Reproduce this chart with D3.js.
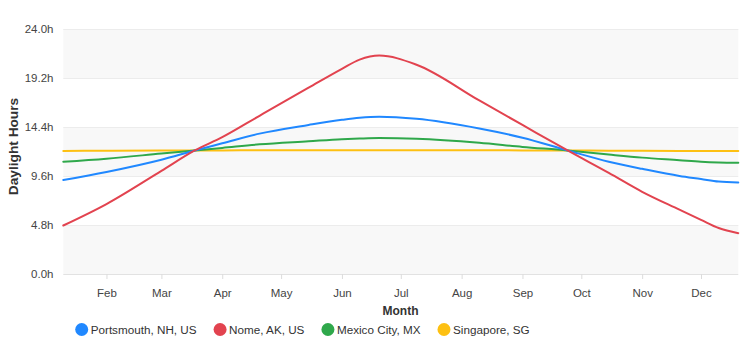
<!DOCTYPE html>
<html>
<head>
<meta charset="utf-8">
<script src="https://cdn.jsdelivr.net/npm/d3@7"></script>
<style>
  html, body { margin: 0; padding: 0; background: #fff; }
  svg { display: block; font-family: "Liberation Sans", Arial, Helvetica, sans-serif; }
</style>
</head>
<body>
<svg id="chart" width="748" height="341"></svg>
<script>
// ---- data ----
const dates = ["2021-01-10","2021-02-01","2021-03-01","2021-03-18","2021-04-01","2021-04-20",
  "2021-05-15","2021-06-01","2021-06-10","2021-06-20","2021-07-09","2021-08-10","2021-09-01",
  "2021-09-24","2021-10-15","2021-11-01","2021-11-20","2021-12-01","2021-12-10","2021-12-20"];
const seriesNames = ["Portsmouth, NH, US", "Nome, AK, US", "Mexico City, MX", "Singapore, SG"];
const portsmouth = [9.2, 10.0, 11.2, 12.1, 12.8, 13.75, 14.6, 15.1, 15.3, 15.4, 15.2, 14.25, 13.35, 12.1, 11.0, 10.3, 9.6, 9.3, 9.05, 8.97];
const nome       = [4.75, 6.85, 10.1, 12.1, 13.4, 15.5, 18.25, 20.1, 21.0, 21.4, 20.5, 17.0, 14.6, 12.1, 9.9, 8.05, 6.3, 5.3, 4.5, 4.0];
const mexicoCity = [11.0, 11.3, 11.8, 12.1, 12.35, 12.7, 13.0, 13.2, 13.27, 13.32, 13.25, 12.85, 12.45, 12.1, 11.7, 11.4, 11.15, 11.0, 10.93, 10.9];
const singapore  = [12.06, 12.07, 12.09, 12.1, 12.11, 12.12, 12.13, 12.13, 12.13, 12.13, 12.13, 12.12, 12.11, 12.1, 12.08, 12.07, 12.06, 12.06, 12.06, 12.06];
const yTicks = [0, 4.8, 9.6, 14.4, 19.2, 24.0];
const colors = ["#2088ff", "#e2434f", "#2fa84b", "#fdc012"];

// ---- layout ----
const svg = d3.select("#chart");
const mLeft = 63.3, mRight = 738.3, mTop = 29, mBottom = 274;
const parse = d3.utcParse("%Y-%m-%d");
const xDates = dates.map(parse);
const x = d3.scaleUtc().domain([xDates[0], xDates[xDates.length - 1]]).range([mLeft, mRight]);
const y = d3.scaleLinear().domain([0, 24]).range([mBottom, mTop]);

// bands
for (let i = 0; i < yTicks.length - 1; i++) {
  if (i % 2 === 0) {
    svg.append("rect")
      .attr("x", mLeft).attr("width", mRight - mLeft)
      .attr("y", y(yTicks[i + 1])).attr("height", y(yTicks[i]) - y(yTicks[i + 1]))
      .attr("fill", "#f8f8f8");
  }
}
// grid lines
svg.append("g").selectAll("line").data(yTicks).join("line")
  .attr("x1", mLeft).attr("x2", mRight)
  .attr("y1", d => Math.round(y(d)) + 0.5).attr("y2", d => Math.round(y(d)) + 0.5)
  .attr("stroke", d => d === 0 ? "#e2e2e2" : "#ececec").attr("stroke-width", 1);

// y axis labels
const yAxis = d3.axisLeft(y).tickValues(yTicks).tickFormat(d => d3.format(".1f")(d) + "h").tickSize(0).tickPadding(0);
const gy = svg.append("g").attr("transform", `translate(${53.5},0)`).call(yAxis);
gy.select(".domain").remove();
gy.selectAll("text").attr("fill", "#444").attr("font-size", 11.5)
  .attr("font-family", "'Liberation Sans', Arial, sans-serif");

// x axis
const xAxis = d3.axisBottom(x).ticks(d3.utcMonth.every(1)).tickFormat(d3.utcFormat("%b")).tickSize(5).tickPadding(10);
const gx = svg.append("g").attr("transform", `translate(0,${mBottom})`).call(xAxis);
gx.select(".domain").remove();
gx.selectAll("line").attr("stroke", "#dcdcdc");
gx.selectAll("text").attr("fill", "#444").attr("font-size", 11.5)
  .attr("font-family", "'Liberation Sans', Arial, sans-serif");

// axis titles
svg.append("text").attr("x", 400.5).attr("y", 315).attr("text-anchor", "middle")
  .attr("font-weight", "bold").attr("font-size", 12).attr("fill", "#333").text("Month");
svg.append("text").attr("transform", "translate(18,146.5) rotate(-90)").attr("text-anchor", "middle")
  .attr("font-weight", "bold").attr("font-size", 13.7).attr("fill", "#333").text("Daylight Hours");

// lines
const allSeries = [portsmouth, nome, mexicoCity, singapore];
const line = d3.line().x((d, i) => x(xDates[i])).y(d => y(d)).curve(d3.curveMonotoneX);
const drawOrder = [3, 2, 0, 1];
drawOrder.forEach(k => {
  svg.append("path").datum(allSeries[k])
    .attr("d", line).attr("fill", "none")
    .attr("stroke", colors[k]).attr("stroke-width", 2)
    .attr("stroke-linejoin", "round").attr("stroke-linecap", "round");
});

// legend
const lg = svg.append("g");
let cx = 81.7;
seriesNames.forEach((name, k) => {
  lg.append("circle").attr("cx", cx).attr("cy", 329.5).attr("r", 6.5).attr("fill", colors[k]);
  const t = lg.append("text").attr("x", cx + 9).attr("y", 333.5).attr("font-size", 11.7)
    .attr("fill", "#333").text(name);
  const w = t.node().getComputedTextLength();
  cx = cx + 9 + w + 23.5;
});
</script>
</body>
</html>
